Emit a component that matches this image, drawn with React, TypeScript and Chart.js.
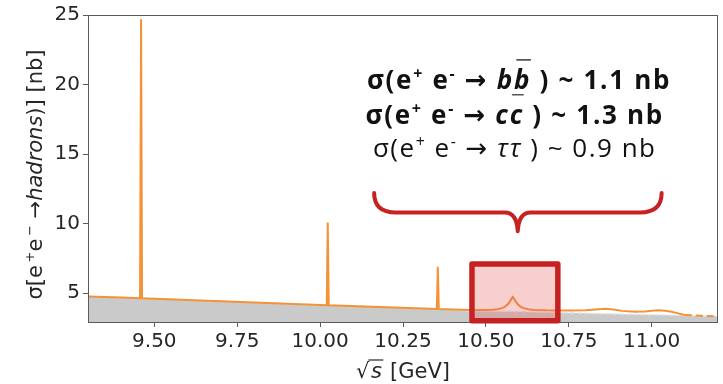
import React, { useEffect, useRef } from "react";
import { Chart, registerables } from "chart.js";

Chart.register(...registerables);

// ---- axis ranges and ticks ----
const X_MIN = 9.3;
const X_MAX = 11.2;
const Y_MIN = 2.92;
const Y_MAX = 25;
const X_TICKS = [9.5, 9.75, 10.0, 10.25, 10.5, 10.75, 11.0];
const Y_TICKS = [5, 10, 15, 20, 25];

// ---- total hadronic cross section (orange) ----
const energy = [
  9.3, 9.4, 9.457, 9.46, 9.463, 9.6, 9.8, 10.02, 10.023, 10.026, 10.2, 10.352, 10.355, 10.358,
  10.45, 10.5, 10.52, 10.535, 10.548, 10.558, 10.566, 10.573, 10.578, 10.581, 10.584, 10.589,
  10.596, 10.604, 10.614, 10.627, 10.645, 10.68, 10.75, 10.8, 10.83, 10.86, 10.885, 10.91,
  10.95, 10.98, 11.0, 11.02, 11.04, 11.06, 11.08, 11.1, 11.15, 11.2,
];
const sigmaHadrons = [
  4.76, 4.675, 4.63, 24.7, 4.63, 4.5, 4.32, 4.13, 10.07, 4.12, 3.98, 3.86, 6.89, 3.86,
  3.79, 3.78, 3.8, 3.84, 3.92, 4.03, 4.2, 4.42, 4.62, 4.72, 4.62, 4.42,
  4.2, 4.03, 3.92, 3.84, 3.79, 3.76, 3.75, 3.77, 3.82, 3.87, 3.82, 3.72,
  3.65, 3.68, 3.73, 3.76, 3.73, 3.66, 3.54, 3.43, 3.37, 3.33,
];
const DASH_FROM = 11.1;

// ---- continuum (grey fill) ----
const continuumX = [9.3, 9.46, 9.8, 10.02, 10.2, 10.355, 10.45, 10.6, 10.75, 10.9, 11.05, 11.2];
const continuumY = [4.76, 4.63, 4.32, 4.125, 3.98, 3.86, 3.72, 3.66, 3.58, 3.49, 3.42, 3.33];

// ---- annotation geometry in data units ----
const BOX = { x0: 10.458, x1: 10.717, y0: 3.01, y1: 7.09 };
const BRACE = { x0: 10.163, x1: 11.03, xc: 10.596, yTop: 12.2, yMid: 10.8, yTip: 9.45, bend: 0.065 };
const TEXT_X = [10.6, 10.587, 10.587];
const TEXT_BASELINES = [19.68, 17.17, 14.76];

type Run = { t: string; it?: boolean; sup?: boolean; over?: boolean; arrow?: boolean };

const LINE_BB: Run[] = [
  { t: "σ(e" }, { t: "+", sup: true }, { t: " e" }, { t: "-", sup: true }, { t: " " }, { t: "→", arrow: true }, { t: " " },
  { t: "b", it: true }, { t: "b", it: true, over: true }, { t: " ) ~ 1.1 nb" },
];
const LINE_CC: Run[] = [
  { t: "σ(e" }, { t: "+", sup: true }, { t: " e" }, { t: "-", sup: true }, { t: " " }, { t: "→", arrow: true }, { t: " " },
  { t: "c", it: true }, { t: "c", it: true, over: true }, { t: " ) ~ 1.3 nb" },
];
const LINE_TT: Run[] = [
  { t: "σ(e" }, { t: "+", sup: true }, { t: " e" }, { t: "-", sup: true }, { t: " " }, { t: "→", arrow: true }, { t: " " },
  { t: "ττ", it: true }, { t: " ) ~ 0.9 nb" },
];
const Y_TITLE: Run[] = [
  { t: "σ[e" }, { t: "\u2009+", sup: true }, { t: "e" }, { t: "\u2009−", sup: true }, { t: " →" },
  { t: "hadrons", it: true }, { t: ")] [nb]" },
];

const RED = "#c72222";
const ORANGE = "#f39237";
const GREY = "#cacaca";
const TEXT = "#262626";

function drawRuns(
  ctx: CanvasRenderingContext2D,
  runs: Run[],
  cx: number,
  baseline: number,
  size: number,
  bold: boolean,
  family: string,
  color: string,
  spacing = 0
) {
  const font = (r: Run) =>
    `${r.it ? "italic " : ""}${bold ? "bold " : ""}${r.sup ? Math.round(size * 0.6) : size}px ${
      r.arrow ? "'DejaVu Sans'" : family
    }`;
  (ctx as any).letterSpacing = `${spacing}px`;
  const widths = runs.map((r) => {
    ctx.font = font(r);
    return ctx.measureText(r.t).width;
  });
  const total = widths.reduce((a, b) => a + b, 0);
  let x = cx - total / 2;
  ctx.fillStyle = color;
  ctx.textAlign = "left";
  ctx.textBaseline = "alphabetic";
  runs.forEach((r, i) => {
    ctx.font = font(r);
    ctx.fillText(r.t, x, r.sup ? baseline - size * 0.38 : baseline);
    if (r.over) {
      ctx.save();
      ctx.strokeStyle = "#555";
      ctx.lineWidth = 1.6;
      ctx.beginPath();
      ctx.moveTo(x + 3, baseline - size * 1.12);
      ctx.lineTo(x + widths[i] - spacing + 1, baseline - size * 1.12);
      ctx.stroke();
      ctx.restore();
    }
    x += widths[i];
  });
  (ctx as any).letterSpacing = "0px";
}

const decorPlugin = {
  id: "decor",
  afterDatasetsDraw(chart: any) {
    const { ctx, chartArea: a, scales } = chart;
    const xs = scales.x;
    const ys = scales.y;
    ctx.save();
    // frame
    ctx.strokeStyle = "#5a5a5a";
    ctx.lineWidth = 1;
    ctx.strokeRect(a.left + 0.5, a.top + 0.5, a.right - a.left - 1, a.bottom - a.top);

    // highlight box
    const bx0 = xs.getPixelForValue(BOX.x0);
    const bx1 = xs.getPixelForValue(BOX.x1);
    const by0 = ys.getPixelForValue(BOX.y1);
    const by1 = ys.getPixelForValue(BOX.y0);
    ctx.fillStyle = "rgba(228, 96, 96, 0.3)";
    ctx.fillRect(bx0, by0, bx1 - bx0, by1 - by0);
    ctx.strokeStyle = RED;
    ctx.lineWidth = 5.5;
    ctx.lineJoin = "round";
    ctx.strokeRect(bx0, by0, bx1 - bx0, by1 - by0);

    // brace
    const L = xs.getPixelForValue(BRACE.x0);
    const R = xs.getPixelForValue(BRACE.x1);
    const C = xs.getPixelForValue(BRACE.xc);
    const bend = xs.getPixelForValue(BRACE.x0 + BRACE.bend) - L;
    const yt = ys.getPixelForValue(BRACE.yTop);
    const ym = ys.getPixelForValue(BRACE.yMid);
    const yp = ys.getPixelForValue(BRACE.yTip);
    ctx.strokeStyle = RED;
    ctx.lineWidth = 4;
    ctx.lineCap = "round";
    ctx.beginPath();
    ctx.moveTo(L, yt);
    ctx.quadraticCurveTo(L, ym, L + bend, ym);
    ctx.lineTo(C - bend * 0.6, ym);
    ctx.quadraticCurveTo(C - 1, ym, C, yp);
    ctx.moveTo(R, yt);
    ctx.quadraticCurveTo(R, ym, R - bend, ym);
    ctx.lineTo(C + bend * 0.6, ym);
    ctx.quadraticCurveTo(C + 1, ym, C, yp);
    ctx.stroke();

    // text
    const fam = "'Open Sans', 'Noto Sans', sans-serif";
    drawRuns(ctx, LINE_BB, xs.getPixelForValue(TEXT_X[0]), ys.getPixelForValue(TEXT_BASELINES[0]), 26, true, fam, "#111", 1.7);
    drawRuns(ctx, LINE_CC, xs.getPixelForValue(TEXT_X[1]), ys.getPixelForValue(TEXT_BASELINES[1]), 26, true, fam, "#111", 1.7);
    drawRuns(ctx, LINE_TT, xs.getPixelForValue(TEXT_X[2]), ys.getPixelForValue(TEXT_BASELINES[2]), 26, false, fam, "#111", 1.5);
    ctx.restore();
  },
  afterDraw(chart: any) {
    const { ctx, chartArea: a } = chart;
    ctx.save();
    const fam = "'DejaVu Sans', sans-serif";
    // y title (rotated)
    ctx.translate(42, (a.top + a.bottom) / 2 + 6);
    ctx.rotate(-Math.PI / 2);
    drawRuns(ctx, Y_TITLE, 0, 0, 21, false, fam, TEXT);
    ctx.restore();

    // x title: √s [GeV]
    ctx.save();
    const cx = (a.left + a.right) / 2;
    const base = 378;
    ctx.font = `21px ${fam}`;
    const wRad = ctx.measureText("√").width;
    ctx.font = `italic 21px ${fam}`;
    const wS = ctx.measureText("s").width + 3;
    ctx.font = `21px ${fam}`;
    const wRest = ctx.measureText(" [GeV]").width;
    let x = cx - (wRad + wS + wRest) / 2;
    ctx.fillStyle = TEXT;
    ctx.textBaseline = "alphabetic";
    ctx.fillText("√", x, base);
    ctx.strokeStyle = TEXT;
    ctx.lineWidth = 1.2;
    ctx.beginPath();
    ctx.moveTo(x + wRad - 1, base - 18);
    ctx.lineTo(x + wRad + wS, base - 18);
    ctx.stroke();
    x += wRad;
    ctx.font = `italic 21px ${fam}`;
    ctx.fillText("s", x + 1.5, base);
    x += wS;
    ctx.font = `21px ${fam}`;
    ctx.fillText(" [GeV]", x, base);
    ctx.restore();
  },
};

export default function App() {
  const ref = useRef<HTMLCanvasElement | null>(null);
  useEffect(() => {
    document.body.style.margin = "0";
    const canvas = ref.current;
    if (!canvas) return;
    const chart = new Chart(canvas, {
      type: "line",
      data: {
        datasets: [
          {
            label: "hadrons",
            data: energy.map((e, i) => ({ x: e, y: sigmaHadrons[i] })),
            borderColor: ORANGE,
            borderWidth: 2,
            pointRadius: 0,
            fill: false,
            tension: 0,
            segment: {
              borderDash: (c: any) => (c.p0.parsed.x >= DASH_FROM - 1e-6 ? [7, 4] : undefined),
            },
          },
          {
            label: "continuum",
            data: continuumX.map((e, i) => ({ x: e, y: continuumY[i] })),
            borderColor: "#e4e4e4",
            borderWidth: 1.5,
            borderDash: [4, 3],
            backgroundColor: GREY,
            pointRadius: 0,
            fill: "start",
          },
        ],
      },
      options: {
        animation: false,
        responsive: false,
        events: [],
        layout: { padding: { top: 14, right: 5, left: 0, bottom: 0 } },
        plugins: { legend: { display: false }, tooltip: { enabled: false } },
        scales: {
          x: {
            type: "linear",
            min: X_MIN,
            max: X_MAX,
            afterFit: (s: any) => {
              s.height = 62;
            },
            afterBuildTicks: (s: any) => {
              s.ticks = X_TICKS.map((v) => ({ value: v }));
            },
            border: { display: false },
            grid: { display: true, drawOnChartArea: false, drawTicks: true, tickLength: 5, tickColor: "#5a5a5a" },
            ticks: {
              color: TEXT,
              font: { family: "'DejaVu Sans'", size: 20 },
              padding: 3,
              maxRotation: 0,
              autoSkip: false,
              callback: (v: any) => Number(v).toFixed(2),
            },
          },
          y: {
            type: "linear",
            min: Y_MIN,
            max: Y_MAX,
            afterFit: (s: any) => {
              s.width = 88;
            },
            afterBuildTicks: (s: any) => {
              s.ticks = Y_TICKS.map((v) => ({ value: v }));
            },
            border: { display: false },
            grid: { display: true, drawOnChartArea: false, drawTicks: true, tickLength: 5, tickColor: "#5a5a5a" },
            ticks: {
              color: TEXT,
              font: { family: "'DejaVu Sans'", size: 20 },
              padding: 3,
              autoSkip: false,
              callback: (v: any) => String(v),
            },
          },
        },
      },
      plugins: [decorPlugin],
    } as any);
    return () => chart.destroy();
  }, []);
  return (
    <div style={{ position: "fixed", left: 0, top: 0, width: 723, height: 384, background: "#fff" }}>
      <canvas ref={ref} width={723} height={384} style={{ display: "block" }} />
    </div>
  );
}
